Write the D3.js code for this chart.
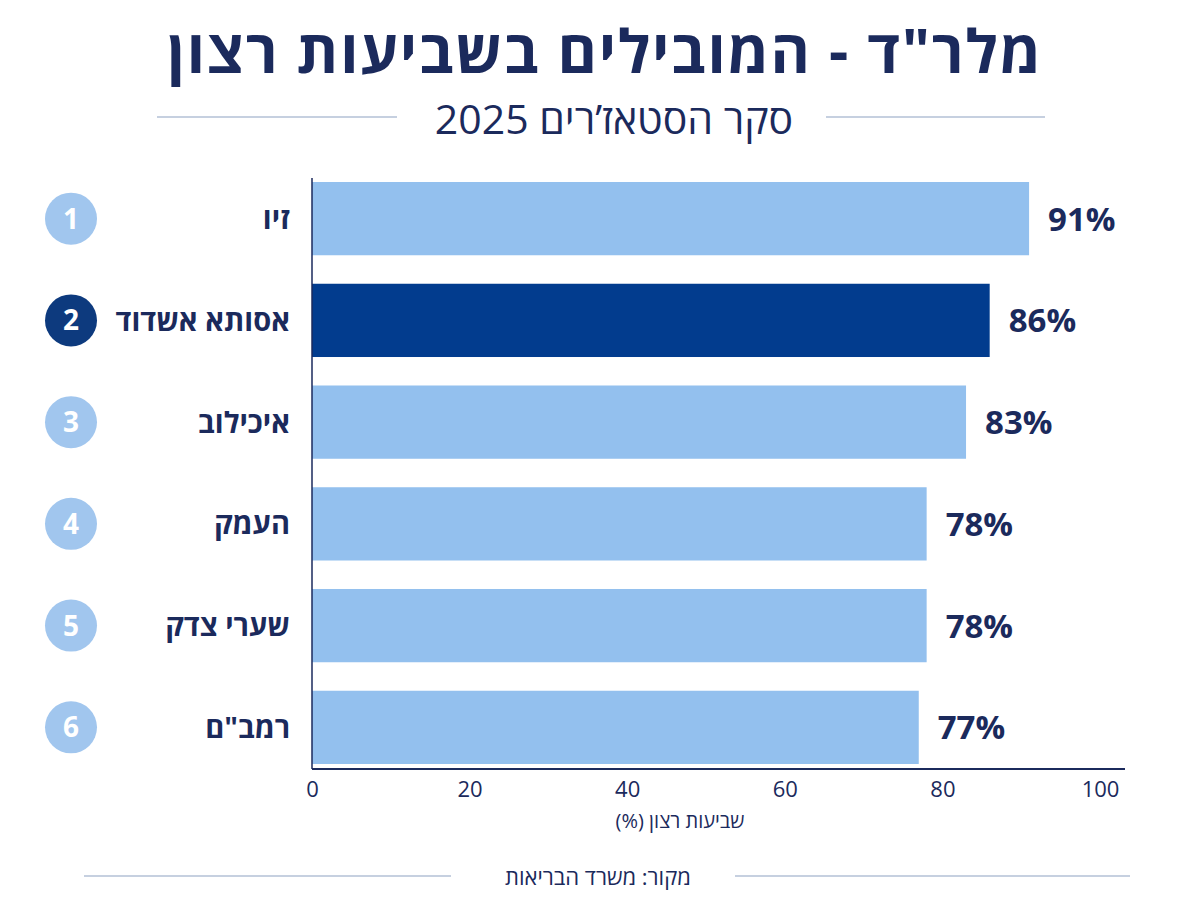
<!DOCTYPE html>
<html>
<head>
<meta charset="utf-8">
<script src="https://cdn.jsdelivr.net/npm/d3@7"></script>
<style>
  body { margin: 0; background: #fff; }
  svg { display: block; font-family: "Open Sans", "DejaVu Sans", sans-serif; }
</style>
</head>
<body>
<div id="chart"></div>
<script>
// data
const hospitals = ["זיו", "אסותא אשדוד", "איכילוב", "העמק", "שערי צדק", "רמב\"ם"];
const ranks = [1, 2, 3, 4, 5, 6];
const satisfaction = [91, 86, 83, 78, 78, 77];
const highlighted = ["אסותא אשדוד"];
const xTicks = [0, 20, 40, 60, 80, 100];

const titleText = "מלר\"ד - המובילים בשביעות רצון";
const subtitleText = "סקר הסטאז’רים 2025";
const axisTitle = "שביעות רצון (%)";
const sourceText = "מקור: משרד הבריאות";

const W = 1200, H = 900;
const navy = "#1b2a5c";
const lightBar = "#93c0ee", darkBar = "#023c8e";
const lightDot = "#a1c6ee", darkDot = "#0d3a7e";
const ruleColor = "#b3c0d6";

const rows = hospitals.map((h, i) => ({ name: h, rank: ranks[i], value: satisfaction[i] }));

const svg = d3.select("#chart").append("svg")
    .attr("width", W)
    .attr("height", H);

// scales
const x = d3.scaleLinear().domain([0, 100]).range([312, 1100]);
const y = d3.scaleBand().domain(hospitals).range([182, 764]).paddingInner(0.28);

// title
svg.append("text")
    .attr("x", 605).attr("y", 73)
    .attr("text-anchor", "middle")
    .attr("direction", "rtl")
    .attr("fill", navy)
    .style("font-size", "60px")
    .style("font-weight", 700)
    .style("letter-spacing", "1.7px")
    .text(titleText);

// subtitle with rules
svg.append("text")
    .attr("x", 614).attr("y", 134)
    .attr("text-anchor", "middle")
    .attr("direction", "rtl")
    .attr("fill", navy)
    .style("font-size", "41px")
    .style("font-weight", 500)
    .text(subtitleText);

svg.append("line").attr("x1", 157).attr("x2", 397).attr("y1", 117).attr("y2", 117)
    .attr("stroke", ruleColor).attr("stroke-width", 1.5);
svg.append("line").attr("x1", 826).attr("x2", 1045).attr("y1", 117).attr("y2", 117)
    .attr("stroke", ruleColor).attr("stroke-width", 1.5);

// bars
svg.append("g").selectAll("rect")
    .data(rows)
    .join("rect")
    .attr("x", x(0))
    .attr("y", d => y(d.name))
    .attr("width", d => x(d.value) - x(0))
    .attr("height", y.bandwidth())
    .attr("fill", d => highlighted.includes(d.name) ? darkBar : lightBar);

// value labels
svg.append("g").selectAll("text")
    .data(rows)
    .join("text")
    .attr("x", d => x(d.value) + 19)
    .attr("y", d => y(d.name) + y.bandwidth() / 2)
    .attr("dy", "0.36em")
    .attr("fill", navy)
    .style("font-size", "33px")
    .style("font-weight", 700)
    .text(d => d.value + "%");

// category labels
svg.append("g").selectAll("text")
    .data(rows)
    .join("text")
    .attr("x", 290)
    .attr("y", d => y(d.name) + y.bandwidth() / 2)
    .attr("dy", "0.36em")
    .attr("text-anchor", "end")
    .attr("fill", navy)
    .style("font-size", "29px")
    .style("font-weight", 700)
    .text(d => d.name);

// rank badges
const badges = svg.append("g").selectAll("g")
    .data(rows)
    .join("g")
    .attr("transform", d => `translate(71,${y(d.name) + y.bandwidth() / 2})`);

badges.append("circle")
    .attr("r", 26)
    .attr("fill", d => highlighted.includes(d.name) ? darkDot : lightDot);

badges.append("text")
    .attr("text-anchor", "middle")
    .attr("dy", "0.36em")
    .attr("fill", "#fff")
    .style("font-size", "28px")
    .style("font-weight", 700)
    .text(d => d.rank);

// axes
const xAxis = d3.axisBottom(x).tickValues(xTicks).tickSize(0).tickPadding(12);
const gx = svg.append("g")
    .attr("transform", "translate(0,769)")
    .call(xAxis);
gx.select(".domain").remove();
gx.selectAll("text")
    .attr("fill", navy)
    .style("font-size", "22px")
    .style("font-family", "\"Open Sans\", sans-serif");

svg.append("line").attr("x1", 312).attr("x2", 1125).attr("y1", 769).attr("y2", 769)
    .attr("stroke", navy).attr("stroke-width", 2);
svg.append("line").attr("x1", 312).attr("x2", 312).attr("y1", 178).attr("y2", 769)
    .attr("stroke", navy).attr("stroke-width", 1.5);

svg.append("text")
    .attr("x", 680).attr("y", 828)
    .attr("text-anchor", "middle")
    .attr("direction", "rtl")
    .attr("fill", navy)
    .style("font-size", "20px")
    .style("font-weight", 500)
    .text(axisTitle);

// source
svg.append("text")
    .attr("x", 598).attr("y", 885)
    .attr("text-anchor", "middle")
    .attr("direction", "rtl")
    .attr("fill", navy)
    .style("font-size", "22px")
    .text(sourceText);

svg.append("line").attr("x1", 84).attr("x2", 451).attr("y1", 876).attr("y2", 876)
    .attr("stroke", ruleColor).attr("stroke-width", 1.5);
svg.append("line").attr("x1", 735).attr("x2", 1130).attr("y1", 876).attr("y2", 876)
    .attr("stroke", ruleColor).attr("stroke-width", 1.5);
</script>
</body>
</html>
